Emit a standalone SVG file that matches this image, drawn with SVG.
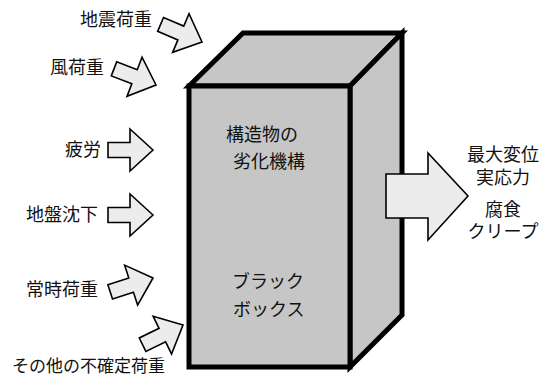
<svg xmlns="http://www.w3.org/2000/svg" width="547" height="378" viewBox="0 0 547 378">
<defs>
<style>
.t{font-family:"Liberation Serif","Noto Sans CJK JP",serif;font-size:18px;fill:#111;dominant-baseline:central}
.face{fill:#c6c6c6;stroke:#000;stroke-width:5;stroke-linejoin:miter}
.arr{fill:#ececec;stroke:#000;stroke-width:1.6;stroke-linejoin:miter}
</style>
<polygon id="ar" points="0,0 -23,-21 -23,-7.5 -45,-7.5 -45,7.5 -23,7.5 -23,21"/>
</defs>
<rect width="547" height="378" fill="#fff"/>
<g id="box">
<polygon class="face" points="189,86 243,33 402,33 350,86"/>
<polygon class="face" points="350,86 402,33 402,315 350,367"/>
<rect class="face" x="189" y="86" width="161" height="281"/>
<text class="t" x="226" y="135">構造物の</text>
<text class="t" x="233" y="162">劣化機構</text>
<text class="t" x="232" y="282">ブラック</text>
<text class="t" x="233" y="310">ボックス</text>
</g>
<g id="connectors">
<use href="#ar" class="arr" transform="translate(202,42) rotate(23)"/>
<use href="#ar" class="arr" transform="translate(156,85) rotate(21)"/>
<use href="#ar" class="arr" transform="translate(153,150)"/>
<use href="#ar" class="arr" transform="translate(153,215)"/>
<use href="#ar" class="arr" transform="translate(153,278) rotate(-18)"/>
<use href="#ar" class="arr" transform="translate(183,325) rotate(-26)"/>
<polygon class="arr" points="386,174 428,174 428,153 468,196 428,240 428,218 386,218"/>
</g>
<g id="n-jishin"><text class="t" x="80" y="20">地震荷重</text></g>
<g id="n-kaze"><text class="t" x="50" y="68">風荷重</text></g>
<g id="n-hiro"><text class="t" x="65" y="150">疲労</text></g>
<g id="n-jiban"><text class="t" x="26" y="215">地盤沈下</text></g>
<g id="n-joji"><text class="t" x="26" y="290">常時荷重</text></g>
<g id="n-sonota"><text class="t" x="12" y="366" style="font-size:17px">その他の不確定荷重</text></g>
<g id="n-output">
<text class="t" x="503" y="155" text-anchor="middle">最大変位</text>
<text class="t" x="503" y="178" text-anchor="middle">実応力</text>
<text class="t" x="503" y="210" text-anchor="middle">腐食</text>
<text class="t" x="503" y="232" text-anchor="middle">クリープ</text>
</g>
</svg>
